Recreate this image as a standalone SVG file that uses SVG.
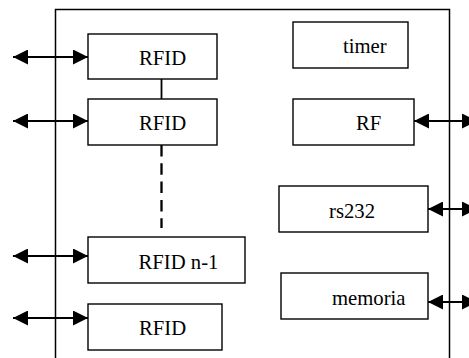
<svg xmlns="http://www.w3.org/2000/svg" width="469" height="358" viewBox="0 0 469 358">
<style>
.box{fill:#fff;stroke:#000;stroke-width:1.4}
.lbl{font-family:'Liberation Serif','Times New Roman',serif;font-size:20.7px;fill:#000}
.arr{stroke:#000;stroke-width:2;fill:none;marker-start:url(#ah);marker-end:url(#ah)}
</style>
<defs>
<marker id="ah" viewBox="0 0 15 15" refX="15" refY="7.5" markerWidth="15" markerHeight="15" markerUnits="userSpaceOnUse" orient="auto-start-reverse">
<path d="M0,0 L15,7.5 L0,15 z" fill="#000"/>
</marker>
</defs>
<rect width="469" height="358" fill="#fff"/>
<g id="frame"><path d="M55.5,360 V9.5 H449.5 V360" fill="none" stroke="#000" stroke-width="1.5"/></g>
<g id="connectors">
<line class="arr" x1="13" y1="57" x2="88" y2="57"/>
<line class="arr" x1="13" y1="121" x2="88" y2="121"/>
<line class="arr" x1="13" y1="256" x2="88" y2="256"/>
<line class="arr" x1="13" y1="318" x2="88" y2="318"/>
<line class="arr" x1="414" y1="121" x2="477" y2="121"/>
<line class="arr" x1="428" y1="209" x2="477" y2="209"/>
<line class="arr" x1="428" y1="302" x2="477" y2="302"/>
<line x1="161.5" y1="79" x2="161.5" y2="99" stroke="#000" stroke-width="1.8"/>
<line x1="161.5" y1="145" x2="161.5" y2="228" stroke="#000" stroke-width="2.3" stroke-dasharray="11.5,6.8"/>
</g>
<g id="rfid1"><rect class="box" x="88" y="34" width="129" height="45"/><text class="lbl" x="139" y="65">RFID</text></g>
<g id="rfid2"><rect class="box" x="88" y="99" width="129" height="46"/><text class="lbl" x="139" y="130">RFID</text></g>
<g id="rfidn1"><rect class="box" x="88" y="237" width="157" height="46"/><text class="lbl" x="138.5" y="269">RFID n-1</text></g>
<g id="rfid4"><rect class="box" x="88" y="304" width="134" height="46"/><text class="lbl" x="139" y="335">RFID</text></g>
<g id="timer"><rect class="box" x="293" y="22" width="115" height="46"/><text class="lbl" x="343" y="53">timer</text></g>
<g id="rf"><rect class="box" x="293" y="99" width="121" height="46"/><text class="lbl" x="356" y="130">RF</text></g>
<g id="rs232"><rect class="box" x="279" y="186" width="149" height="46"/><text class="lbl" x="329" y="218">rs232</text></g>
<g id="memoria"><rect class="box" x="281" y="273" width="147" height="46"/><text class="lbl" x="332" y="305">memoria</text></g>
</svg>
